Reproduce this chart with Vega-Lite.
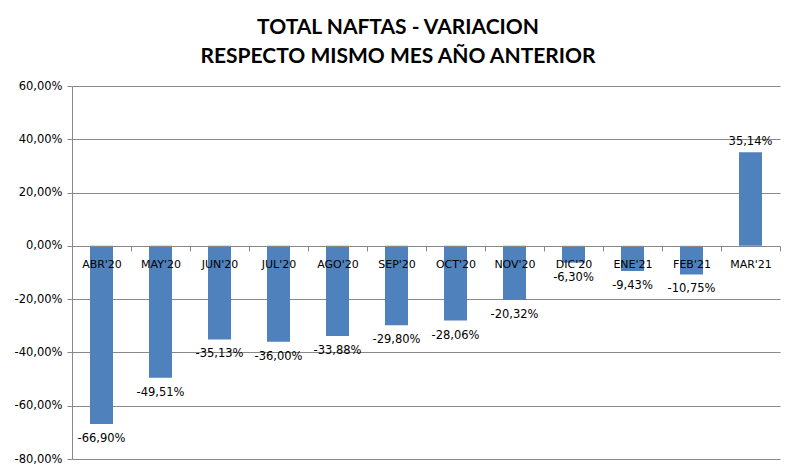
{
  "$schema": "https://vega.github.io/schema/vega-lite/v6.json",
  "width": 708,
  "height": 373,
  "autosize": {"type": "none"},
  "padding": {"left": 72, "top": 86, "right": 16, "bottom": 17},
  "background": "white",
  "config": {
    "locale": {"number": {"decimal": ",", "thousands": ".", "grouping": [3], "currency": ["$", ""], "minus": "-"}},
    "view": {"stroke": null},
    "font": "DejaVu Sans"
  },
  "title": {
    "text": ["TOTAL NAFTAS - VARIACION", "RESPECTO MISMO  MES AÑO ANTERIOR"],
    "font": "Lato",
    "fontSize": 21,
    "fontWeight": "bold",
    "color": "black",
    "anchor": "middle",
    "dx": -28,
    "offset": 13,
    "lineHeight": 29
  },
  "data": {
    "values": [
      {"mes": "ABR'20", "valor": -0.6690},
      {"mes": "MAY'20", "valor": -0.4951},
      {"mes": "JUN'20", "valor": -0.3513},
      {"mes": "JUL'20", "valor": -0.3600},
      {"mes": "AGO'20", "valor": -0.3388},
      {"mes": "SEP'20", "valor": -0.2980},
      {"mes": "OCT'20", "valor": -0.2806},
      {"mes": "NOV'20", "valor": -0.2032},
      {"mes": "DIC'20", "valor": -0.0630},
      {"mes": "ENE'21", "valor": -0.0943},
      {"mes": "FEB'21", "valor": -0.1075},
      {"mes": "MAR'21", "valor": 0.3514}
    ]
  },
  "encoding": {
    "x": {
      "field": "mes",
      "type": "nominal",
      "sort": null,
      "scale": {"paddingInner": 0, "paddingOuter": 0},
      "axis": {
        "title": null,
        "orient": "bottom",
        "offset": -213,
        "labelAngle": 0,
        "labelFont": "DejaVu Sans",
        "labelFontSize": 11,
        "labelColor": "black",
        "labelPadding": 7,
        "tickBand": "extent",
        "tickSize": 5,
        "tickColor": "#888888",
        "domainColor": "#888888",
        "zindex": 1
      }
    },
    "y": {
      "field": "valor",
      "type": "quantitative",
      "scale": {"domain": [-0.8, 0.6], "nice": false, "zero": false},
      "axis": {
        "title": null,
        "format": ".2%",
        "values": [-0.8, -0.6, -0.4, -0.2, 0, 0.2, 0.4, 0.6],
        "labelFont": "DejaVu Sans",
        "labelFontSize": 11.5,
        "labelColor": "black",
        "labelPadding": 5,
        "tickSize": 5,
        "tickColor": "#888888",
        "domainColor": "#888888",
        "gridColor": "#888888",
        "gridOpacity": 1
      }
    }
  },
  "layer": [
    {
      "mark": {"type": "bar", "color": "#4F81BD", "width": {"band": 0.39}}
    },
    {
      "transform": [{"filter": "datum.valor < 0"}],
      "mark": {"type": "text", "baseline": "top", "dy": 9, "fontSize": 11.5, "font": "DejaVu Sans", "color": "black"},
      "encoding": {"text": {"field": "valor", "type": "quantitative", "format": ".2%"}}
    },
    {
      "transform": [{"filter": "datum.valor >= 0"}],
      "mark": {"type": "text", "baseline": "bottom", "dy": -5, "fontSize": 11.5, "font": "DejaVu Sans", "color": "black"},
      "encoding": {"text": {"field": "valor", "type": "quantitative", "format": ".2%"}}
    }
  ]
}
